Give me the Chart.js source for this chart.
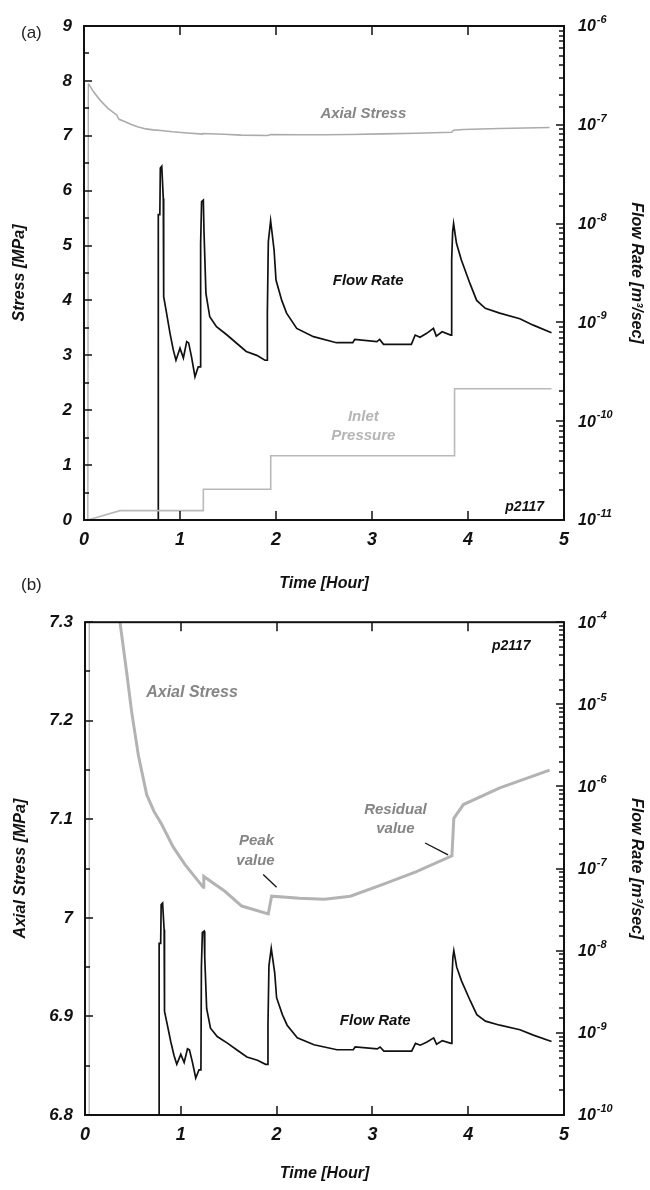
<!DOCTYPE html>
<html>
<head>
<meta charset="utf-8">
<script src="https://cdn.jsdelivr.net/npm/chart.js@4"></script>
<style>
body { margin: 0; background: #fff; width: 650px; height: 1190px; position: relative; overflow: hidden; }
canvas { position: absolute; left: 0; }
#chartA { top: 0; }
#chartB { top: 600px; }
.tag { position: absolute; font: 17px 'Liberation Sans', Arial, sans-serif; color: #222; }
</style>
</head>
<body>
<canvas id="chartA" width="650" height="600"></canvas>
<canvas id="chartB" width="650" height="590"></canvas>
<div class="tag" style="left:21px; top:23px;">(a)</div>
<div class="tag" style="left:21px; top:575px;">(b)</div>
<script>
// flow rate (m3/sec)
var flowTime = [0.774, 0.774, 0.79, 0.795, 0.81, 0.826, 0.83, 0.86, 0.896, 0.93,
    0.958, 1.0, 1.035, 1.07, 1.09, 1.12, 1.156, 1.19, 1.21, 1.215,
    1.225, 1.243, 1.25, 1.27, 1.31, 1.38, 1.49, 1.59, 1.69, 1.80,
    1.885, 1.91, 1.91, 1.92, 1.944, 1.98, 2.0, 2.06, 2.11, 2.216,
    2.39, 2.63, 2.80, 2.82, 3.05, 3.08, 3.12, 3.41, 3.45, 3.50,
    3.57, 3.64, 3.67, 3.73, 3.82, 3.83, 3.83, 3.84, 3.85, 3.88,
    3.93, 4.02, 4.09, 4.18, 4.33, 4.54, 4.68, 4.87];
var flowRate = [1e-12, 1.23e-8, 1.23e-8, 3.64e-8, 3.8e-8, 1.80e-8, 1.82e-9, 1.24e-9, 7.75e-10, 5.27e-10,
    4.14e-10, 5.48e-10, 4.36e-10, 6.39e-10, 6.2e-10, 4.47e-10, 2.82e-10, 3.55e-10, 3.55e-10, 6.31e-9,
    1.67e-8, 1.73e-8, 8.25e-9, 1.97e-9, 1.14e-9, 9.03e-10, 7.45e-10, 6.15e-10, 5.08e-10, 4.64e-10,
    4.14e-10, 4.14e-10, 1.24e-9, 6.56e-9, 1.07e-8, 5.41e-9, 2.68e-9, 1.67e-9, 1.24e-9, 8.69e-10,
    7.17e-10, 6.23e-10, 6.23e-10, 6.73e-10, 6.39e-10, 6.73e-10, 6.0e-10, 6.0e-10, 7.45e-10, 7.08e-10,
    7.75e-10, 8.69e-10, 7.27e-10, 8.05e-10, 7.45e-10, 7.45e-10, 4.30e-9, 8.25e-9, 1.0e-8, 6.31e-9,
    4.30e-9, 2.48e-9, 1.67e-9, 1.39e-9, 1.24e-9, 1.09e-9, 9.38e-10, 7.84e-10];

// axial stress (MPa)
var stressTime = [0.04, 0.045, 0.10, 0.167, 0.25, 0.34, 0.365, 0.435, 0.487, 0.557,
    0.644, 0.72, 0.80, 0.92, 1.044, 1.235, 1.24, 1.46, 1.636, 1.913,
    1.948, 2.24, 2.50, 2.77, 3.11, 3.46, 3.83, 3.85, 3.95, 4.33, 4.85];
var axialStress = [0, 7.95, 7.80, 7.65, 7.50, 7.38, 7.30, 7.249, 7.209, 7.165,
    7.125, 7.108, 7.095, 7.072, 7.054, 7.031, 7.042, 7.027, 7.012, 7.004,
    7.022, 7.020, 7.019, 7.022, 7.034, 7.047, 7.063, 7.101, 7.115, 7.132, 7.150];

// inlet pressure (MPa)
var inletTime = [0.04, 0.375, 1.243, 1.243, 1.945, 1.945, 3.86, 3.86, 4.87];
var inletPressure = [0, 0.17, 0.17, 0.56, 0.56, 1.17, 1.17, 2.39, 2.39];

var timeTicks = [0, 1, 2, 3, 4, 5];

var FAMILY = "'Liberation Sans', Arial, sans-serif";

function pts(xs, ys) {
    var out = [];
    for (var i = 0; i < xs.length; i++) out.push({ x: xs[i], y: ys[i] });
    return out;
}

function bi(size) {
    return { family: FAMILY, size: size, style: 'italic', weight: 'bold' };
}

function decade(v) {
    var l = Math.log10(v);
    return Math.abs(l - Math.round(l)) < 1e-6 ? Math.round(l) : null;
}

// box, inward ticks on all four sides, 10^n labels on the log axis
var frameTicks = {
    id: 'frameTicks',
    afterDatasetsDraw: function (chart) {
        var ctx = chart.ctx, a = chart.chartArea;
        var x = chart.scales.x, y = chart.scales.y, y2 = chart.scales.y2;
        ctx.save();
        ctx.strokeStyle = '#111';
        ctx.lineWidth = 1.5;
        ctx.beginPath();
        x.ticks.forEach(function (t) {
            if (t.value <= x.min || t.value >= x.max) return;
            var px = Math.round(x.getPixelForValue(t.value));
            ctx.moveTo(px, a.bottom); ctx.lineTo(px, a.bottom - 9);
            ctx.moveTo(px, a.top); ctx.lineTo(px, a.top + 9);
        });
        y.ticks.forEach(function (t) {
            var py = Math.round(y.getPixelForValue(t.value));
            var len = t.label !== '' ? 8 : 5;
            ctx.moveTo(a.left, py); ctx.lineTo(a.left + len, py);
        });
        y2.ticks.forEach(function (t) {
            var py = Math.round(y2.getPixelForValue(t.value));
            var len = decade(t.value) !== null ? 8 : 5;
            ctx.moveTo(a.right, py); ctx.lineTo(a.right - len, py);
        });
        ctx.stroke();
        ctx.lineWidth = 2;
        ctx.strokeRect(a.left, a.top, a.right - a.left, a.bottom - a.top);

        ctx.fillStyle = '#111';
        ctx.textAlign = 'left';
        ctx.textBaseline = 'middle';
        y2.ticks.forEach(function (t) {
            var e = decade(t.value);
            if (e === null) return;
            var py = y2.getPixelForValue(t.value) + 1;
            var lx = a.right + 14;
            ctx.font = 'italic bold 16px ' + FAMILY;
            ctx.fillText('10', lx, py);
            var w = ctx.measureText('10').width;
            ctx.font = 'italic bold 11px ' + FAMILY;
            ctx.fillText(String(e), lx + w + 1, py - 7);
        });
        ctx.restore();
    }
};

// text notes placed in data coordinates
function notesPlugin(notes, pointers) {
    return {
        id: 'notes',
        afterDatasetsDraw: function (chart) {
            var ctx = chart.ctx, x = chart.scales.x;
            ctx.save();
            ctx.textAlign = 'center';
            ctx.textBaseline = 'middle';
            notes.forEach(function (n) {
                var sc = chart.scales[n.axis];
                ctx.font = 'italic bold ' + n.size + 'px ' + FAMILY;
                ctx.fillStyle = n.color;
                ctx.fillText(n.text, x.getPixelForValue(n.t), sc.getPixelForValue(n.v));
            });
            ctx.strokeStyle = '#111';
            ctx.lineWidth = 1.3;
            pointers.forEach(function (p) {
                var sc = chart.scales.y;
                ctx.beginPath();
                ctx.moveTo(x.getPixelForValue(p[0]), sc.getPixelForValue(p[1]));
                ctx.lineTo(x.getPixelForValue(p[2]), sc.getPixelForValue(p[3]));
                ctx.stroke();
            });
            ctx.restore();
        }
    };
}

function makeChart(id, cfg) {
    var datasets = [];
    if (cfg.inlet) {
        datasets.push({ data: pts(inletTime, inletPressure), yAxisID: 'y', borderColor: '#b9b9b9', borderWidth: 1.6 });
    }
    datasets.push({
        data: pts(stressTime, axialStress), yAxisID: 'y', borderColor: cfg.stressColor, borderWidth: cfg.stressWidth,
        // the loading ramp at the start stays a thin line
        segment: { borderWidth: function (c) { return c.p0DataIndex === 0 ? 1.3 : cfg.stressWidth; } }
    });
    datasets.push({ data: pts(flowTime, flowRate), yAxisID: 'y2', borderColor: '#111', borderWidth: 1.7 });
    datasets.forEach(function (d) {
        d.showLine = true; d.pointRadius = 0; d.tension = 0; d.fill = false;
    });

    return new Chart(document.getElementById(id), {
        type: 'scatter',
        data: { datasets: datasets },
        options: {
            responsive: false,
            animation: false,
            devicePixelRatio: 1,
            layout: { padding: { top: cfg.padTop, left: 0, right: 0, bottom: 0 } },
            plugins: { legend: { display: false }, tooltip: { enabled: false } },
            scales: {
                x: {
                    type: 'linear', min: 0, max: 5,
                    afterFit: function (s) { s.height = cfg.xHeight; },
                    afterBuildTicks: function (s) { s.ticks = timeTicks.map(function (v) { return { value: v }; }); },
                    grid: { display: false, drawTicks: false },
                    border: { display: false },
                    ticks: { autoSkip: false, maxRotation: 0, padding: 9, color: '#111', font: bi(18),
                        callback: function (v) { return String(v); } },
                    title: { display: true, text: 'Time [Hour]', color: '#111', font: bi(16), padding: { top: 0, bottom: 7 } }
                },
                y: {
                    type: 'linear', position: 'left', min: cfg.yMin, max: cfg.yMax,
                    afterFit: function (s) { s.width = cfg.leftWidth; },
                    grid: { display: false, drawTicks: false },
                    border: { display: false },
                    ticks: { stepSize: cfg.yStep, maxTicksLimit: 100, autoSkip: false, padding: 12, color: '#111', font: bi(17),
                        callback: cfg.yLabel },
                    title: { display: true, text: cfg.yTitle, color: '#111', font: bi(16), padding: { top: cfg.yTitlePad, bottom: 0 } }
                },
                y2: {
                    type: 'logarithmic', position: 'right', min: cfg.fMin, max: cfg.fMax,
                    afterFit: function (s) { s.width = 86; },
                    grid: { display: false, drawTicks: false },
                    border: { display: false },
                    ticks: { autoSkip: false, padding: 14, callback: function () { return ''; } },
                    title: { display: true, text: 'Flow Rate [m\u00B3/sec]', color: '#111', font: bi(16), padding: { top: 3.5, bottom: 0 } }
                }
            }
        },
        plugins: [frameTicks, notesPlugin(cfg.notes, cfg.pointers)]
    });
}

makeChart('chartA', {
    padTop: 26, xHeight: 80, leftWidth: 84,
    yMin: 0, yMax: 9, yStep: 0.5, yTitle: 'Stress [MPa]', yTitlePad: 9.5,
    yLabel: function (v) { return Math.abs(v - Math.round(v)) < 1e-6 ? String(Math.round(v)) : ''; },
    fMin: 1e-11, fMax: 1e-6,
    inlet: true, stressColor: '#ababab', stressWidth: 1.6,
    notes: [
        { text: 'Axial Stress', t: 2.91, v: 7.40, axis: 'y', color: '#858585', size: 15 },
        { text: 'Flow Rate', t: 2.96, v: 4.35, axis: 'y', color: '#111', size: 15 },
        { text: 'Inlet', t: 2.91, v: 1.88, axis: 'y', color: '#b5b5b5', size: 15 },
        { text: 'Pressure', t: 2.91, v: 1.53, axis: 'y', color: '#b5b5b5', size: 15 },
        { text: 'p2117', t: 4.59, v: 0.24, axis: 'y', color: '#111', size: 14 }
    ],
    pointers: []
});

makeChart('chartB', {
    padTop: 20, xHeight: 75, leftWidth: 85,
    yMin: 6.8, yMax: 7.3, yStep: 0.05, yTitle: 'Axial Stress [MPa]', yTitlePad: 11,
    yLabel: function (v) {
        var r = Math.round(v * 10) / 10;
        return Math.abs(v - r) < 1e-6 ? String(r) : '';
    },
    fMin: 1e-10, fMax: 1e-4,
    inlet: false, stressColor: '#b3b3b3', stressWidth: 3,
    notes: [
        { text: 'Axial Stress', t: 1.117, v: 7.229, axis: 'y', color: '#858585', size: 16 },
        { text: 'Peak', t: 1.79, v: 7.078, axis: 'y', color: '#858585', size: 15 },
        { text: 'value', t: 1.78, v: 7.058, axis: 'y', color: '#858585', size: 15 },
        { text: 'Residual', t: 3.24, v: 7.110, axis: 'y', color: '#858585', size: 15 },
        { text: 'value', t: 3.24, v: 7.090, axis: 'y', color: '#858585', size: 15 },
        { text: 'p2117', t: 4.45, v: 7.276, axis: 'y', color: '#111', size: 14 },
        { text: 'Flow Rate', t: 3.03, v: 6.896, axis: 'y', color: '#111', size: 15 }
    ],
    pointers: [[1.86, 7.044, 2.0, 7.031], [3.55, 7.076, 3.79, 7.064]]
});
</script>
</body>
</html>
